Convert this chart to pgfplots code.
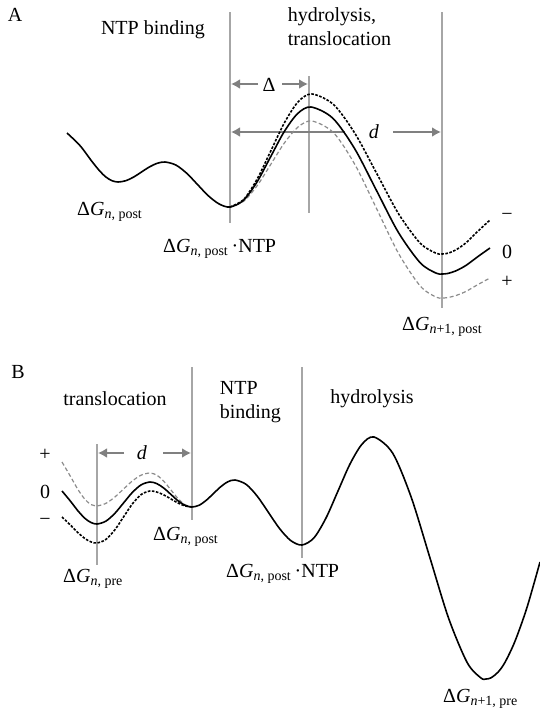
\documentclass[border=0pt]{standalone}
\usepackage{pgfplots}
\pgfplotsset{compat=1.18}
\usepackage{fontspec}
\setmainfont{Liberation Serif}
\usetikzlibrary{arrows.meta}
\definecolor{vl}{RGB}{166,166,166}
\definecolor{ar}{RGB}{128,128,128}
\definecolor{gd}{RGB}{140,140,140}
\newcommand{\DG}[1]{Δ\textit{G}\textsubscript{#1}}
\begin{document}
\fontsize{20}{24}\selectfont
\begin{tikzpicture}
\begin{axis}[
  scale only axis, width=540pt, height=710pt,
  xmin=0, xmax=540, ymin=0, ymax=710, y dir=reverse,
  hide axis, clip=false,
  every node/.style={font=\fontsize{20}{24}\selectfont},
  solidc/.style={black, line width=1.6pt, smooth},
  blackd/.style={black, line width=1.6pt, dash pattern=on 2.6pt off 1.5pt, smooth},
  grayd/.style={gd, line width=1.2pt, dash pattern=on 4pt off 2.5pt, smooth},
  vline/.style={vl, line width=2pt},
  arr/.style={ar, line width=2.5pt, -{Latex[length=9pt,width=10pt]}},
]
% ---------- Panel A ----------
\addplot[vline] coordinates {(230,12) (230,223)};
\addplot[vline] coordinates {(309,76) (309,213)};
\addplot[vline] coordinates {(442,12) (442,308)};
\addplot[arr] coordinates {(258,84) (231,84)};
\addplot[arr] coordinates {(282,84) (308,84)};
\addplot[arr] coordinates {(345,132) (231,132)};
\addplot[arr] coordinates {(393,132) (441,132)};
% + curve (gray dashed)
\addplot[grayd] coordinates {(230,207) (243.7,201.2) (257.3,185.5) (271,164) (284.7,142.5) (298.3,126.8) (312,121)
 (333.7,132.9) (355.3,165.25) (377,209.5) (398.7,253.75) (420.3,286.1) (436,297.1) (442,298)
 (448,297.5) (456,295.5) (466,291.4) (478,284.5) (490,278)};
% - curve (black dashed)
\addplot[blackd] coordinates {(230,207) (243.7,199.4) (257.3,178.75) (271,150.5) (284.7,122.25) (298.3,101.6) (312,94)
 (333.7,104.7) (355.3,134) (377,174) (398.7,214) (420.3,243.3) (436,253.2) (442,254)
 (448,253.2) (456,249.8) (466,242.8) (478,231.1) (490,220)};
% 0 curve (solid)
\addplot[solidc] coordinates {(67,133) (80,145.6) (92,161.5) (100,171.3) (106,177.1) (112,180.7) (118,182)
 (125.8,180.7) (133.7,177) (141.5,172) (149.3,167) (157.2,163.3) (165,162)
 (175.8,165.0) (186.7,173.25) (197.5,184.5) (208.3,195.75) (219.2,204.0) (230,207)
 (243.5,200.3) (257,182) (270.5,157) (284,132) (297.5,113.7) (311,107)
 (332.8,118.2) (354.7,148.75) (376.5,190.5) (398.3,232.25) (420.2,262.8) (436,273.1) (442,274)
 (448,273.4) (456,270.8) (466,265.4) (478,256.5) (490,248)};
\node at (axis cs:15,15) {A};
\node at (axis cs:153,30) {NTP binding};
\node[anchor=west, align=left] at (axis cs:281,27) {hydrolysis,\\translocation};
\node at (axis cs:269,85) {Δ};
\node at (axis cs:374,132) {\textit{d}};
\node[anchor=base west, inner sep=0pt] at (axis cs:77,215) {\DG{\textit{n}, post}};
\node[anchor=base west, inner sep=0pt] at (axis cs:163,252) {\DG{\textit{n}, post}\,·NTP};
\node[anchor=base west, inner sep=0pt] at (axis cs:402,330) {\DG{\textit{n}+1, post}};
\node at (axis cs:507,217) {−};
\node at (axis cs:507,252) {0};
\node at (axis cs:507,282) {+};
% ---------- Panel B ----------
\addplot[vline] coordinates {(97,444) (97,565)};
\addplot[vline] coordinates {(192,367) (192,520)};
\addplot[vline] coordinates {(302,367) (302,558)};
\addplot[arr] coordinates {(124,453) (98,453)};
\addplot[arr] coordinates {(163,453) (191,453)};
% + curve
\addplot[grayd] coordinates {(62,462) (70,475.6) (78,489.6) (85,499.4) (91,504.6) (96,506)
 (105,503.8) (114,497.75) (123,489.5) (132,481.25) (141,475.2) (150,473)
 (157,475.3) (164,481.5) (171,490) (178,498.5) (185,504.7) (192,507)};
% - curve
\addplot[blackd] coordinates {(62,517) (70,524.6) (78,532.7) (85,538.6) (91,541.9) (97,543)
 (105.8,539.5) (114.7,530) (123.5,517) (132.3,504) (141.2,494.5) (150,491)
 (157,492.1) (164,495) (171,499) (178,503) (185,505.9) (192,507)};
% 0 curve
\addplot[solidc] coordinates {(62,491) (70,500.6) (78,510.9) (85,518.4) (91,522.5) (97,524)
 (105.8,521.2) (114.7,513.5) (123.5,503) (132.3,492.5) (141.2,484.8) (150,482)
 (157,483.7) (164,488.25) (171,494.5) (178,500.75) (185,505.3) (192,507)
 (199.2,505.2) (206.3,500.25) (213.5,493.5) (220.7,486.75) (227.8,481.8) (235,480)
 (246.2,484.4) (257.3,496.25) (268.5,512.5) (279.7,528.75) (290.8,540.6) (302,545)
 (314,537.8) (326,518) (338,491) (350,464) (362,444.2) (374,437)
 (392.7,453.2) (411.3,497.5) (430,558) (448.7,618.5) (467.3,662.8) (481,678) (486,679)
 (491,677.8) (498,672.2) (505,662.3) (515,641.2) (527,607.4) (540,562)};
\node at (axis cs:18,372) {B};
\node at (axis cs:115,399) {translocation};
\node[anchor=west, align=left] at (axis cs:213,402) {NTP\\binding};
\node at (axis cs:372,399) {hydrolysis};
\node at (axis cs:45,455) {+};
\node at (axis cs:45,492) {0};
\node at (axis cs:45,522) {−};
\node at (axis cs:142,453) {\textit{d}};
\node[anchor=base west, inner sep=0pt] at (axis cs:63,582) {\DG{\textit{n}, pre}};
\node[anchor=base west, inner sep=0pt] at (axis cs:153,540) {\DG{\textit{n}, post}};
\node[anchor=base west, inner sep=0pt] at (axis cs:226,577) {\DG{\textit{n}, post}\,·NTP};
\node[anchor=base west, inner sep=0pt] at (axis cs:443,702) {\DG{\textit{n}+1, pre}};
\end{axis}
\pgfresetboundingbox
\path (current axis.south west) rectangle (current axis.north east);
\end{tikzpicture}
\end{document}
